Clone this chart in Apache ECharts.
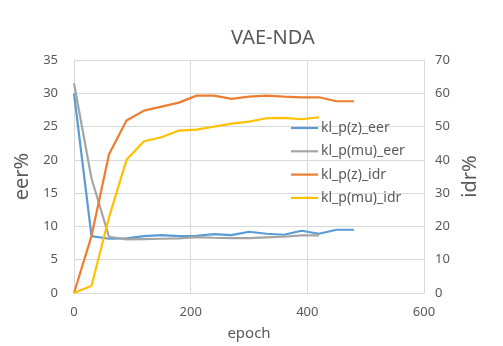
<!DOCTYPE html>
<html>
<head>
<meta charset="utf-8">
<script src="https://cdn.jsdelivr.net/npm/echarts@6/dist/echarts.min.js"></script>
<style>
  html, body { margin: 0; padding: 0; background: #fff; }
  #chart { width: 503px; height: 346px; }
</style>
</head>
<body>
<div id="chart"></div>
<script>
// Training epochs at which the metrics were recorded
const epochs = [0, 30, 60, 90, 120, 150, 180, 210, 240, 270, 300, 330, 360, 390, 420, 450, 480];

// Equal error rate (%), left axis
const klPzEer  = [30.0, 8.55, 8.15, 8.2, 8.55, 8.7, 8.55, 8.6, 8.85, 8.7, 9.2, 8.9, 8.75, 9.35, 8.9, 9.5, 9.5];
const klPmuEer = [31.5, 17.2, 8.45, 8.05, 8.1, 8.15, 8.2, 8.4, 8.3, 8.25, 8.25, 8.35, 8.45, 8.65, 8.65];

// Identification rate (%), right axis
const klPzIdr  = [0, 17.1, 41.7, 51.8, 54.8, 56.0, 57.2, 59.3, 59.3, 58.3, 59.0, 59.3, 59.0, 58.8, 58.8, 57.6, 57.6];
const klPmuIdr = [0, 2.2, 22.7, 40.0, 45.6, 46.8, 48.8, 49.1, 50.0, 50.9, 51.5, 52.5, 52.6, 52.2, 52.8];

const seriesNames = ['kl_p(z)_eer', 'kl_p(mu)_eer', 'kl_p(z)_idr', 'kl_p(mu)_idr'];
const seriesColors = ['#5B9BD5', '#A5A5A5', '#ED7D31', '#FFC000'];

const pairs = vals => vals.map((v, i) => [epochs[i], v]);

const FONT = '"Noto Sans", "Open Sans", sans-serif';
const TXT = '#595959';
const GRIDC = '#D9D9D9';

const chart = echarts.init(document.getElementById('chart'), null, { renderer: 'canvas' });

const mkSeries = (idx, vals, axis) => ({
  name: seriesNames[idx],
  type: 'line',
  yAxisIndex: axis,
  data: pairs(vals),
  symbol: 'none',
  showSymbol: false,
  animation: false,
  lineStyle: { color: seriesColors[idx], width: 2.2 },
  itemStyle: { color: seriesColors[idx] }
});

chart.setOption({
  animation: false,
  backgroundColor: '#ffffff',
  textStyle: { fontFamily: FONT, color: TXT },
  title: {
    text: 'VAE-NDA',
    left: 226,
    top: 23,
    textStyle: { fontFamily: FONT, fontSize: 20, fontWeight: 'normal', color: TXT }
  },
  legend: {
    orient: 'vertical',
    left: 286,
    top: 116,
    icon: 'rect',
    itemWidth: 27,
    itemHeight: 2.2,
    itemGap: 9.3,
    textStyle: { fontFamily: FONT, fontSize: 14, lineHeight: 14, color: TXT, padding: [0, 0, 0, -2] },
    data: seriesNames
  },
  grid: { left: 74, right: 79, top: 60, bottom: 53 },
  xAxis: {
    type: 'value',
    min: 0, max: 600, interval: 200,
    name: 'epoch',
    nameLocation: 'middle',
    nameGap: 33,
    nameTextStyle: { fontFamily: FONT, fontSize: 15, color: TXT },
    axisLine: { show: true, lineStyle: { color: GRIDC, width: 1 } },
    axisTick: { show: false },
    axisLabel: { fontFamily: FONT, fontSize: 13, color: TXT, margin: 13 },
    splitLine: { show: true, lineStyle: { color: GRIDC, width: 1 } }
  },
  yAxis: [
    {
      type: 'value',
      min: 0, max: 35, interval: 5,
      name: 'eer%',
      nameLocation: 'middle',
      nameGap: 34,
      nameRotate: 90,
      nameTextStyle: { fontFamily: FONT, fontSize: 20, color: TXT },
      axisLine: { show: true, lineStyle: { color: GRIDC, width: 1 } },
      axisTick: { show: false },
      axisLabel: { fontFamily: FONT, fontSize: 13, color: TXT, margin: 16 },
      splitLine: { show: true, lineStyle: { color: GRIDC, width: 1 } }
    },
    {
      type: 'value',
      min: 0, max: 70, interval: 10,
      position: 'right',
      name: 'idr%',
      nameLocation: 'middle',
      nameGap: 30,
      nameRotate: 90,
      nameTextStyle: { fontFamily: FONT, fontSize: 20, color: TXT },
      axisLine: { show: true, lineStyle: { color: GRIDC, width: 1 } },
      axisTick: { show: false },
      axisLabel: { fontFamily: FONT, fontSize: 13, color: TXT, margin: 11 },
      splitLine: { show: false }
    }
  ],
  series: [
    mkSeries(0, klPzEer, 0),
    mkSeries(1, klPmuEer, 0),
    mkSeries(2, klPzIdr, 1),
    mkSeries(3, klPmuIdr, 1)
  ]
});
</script>
</body>
</html>
